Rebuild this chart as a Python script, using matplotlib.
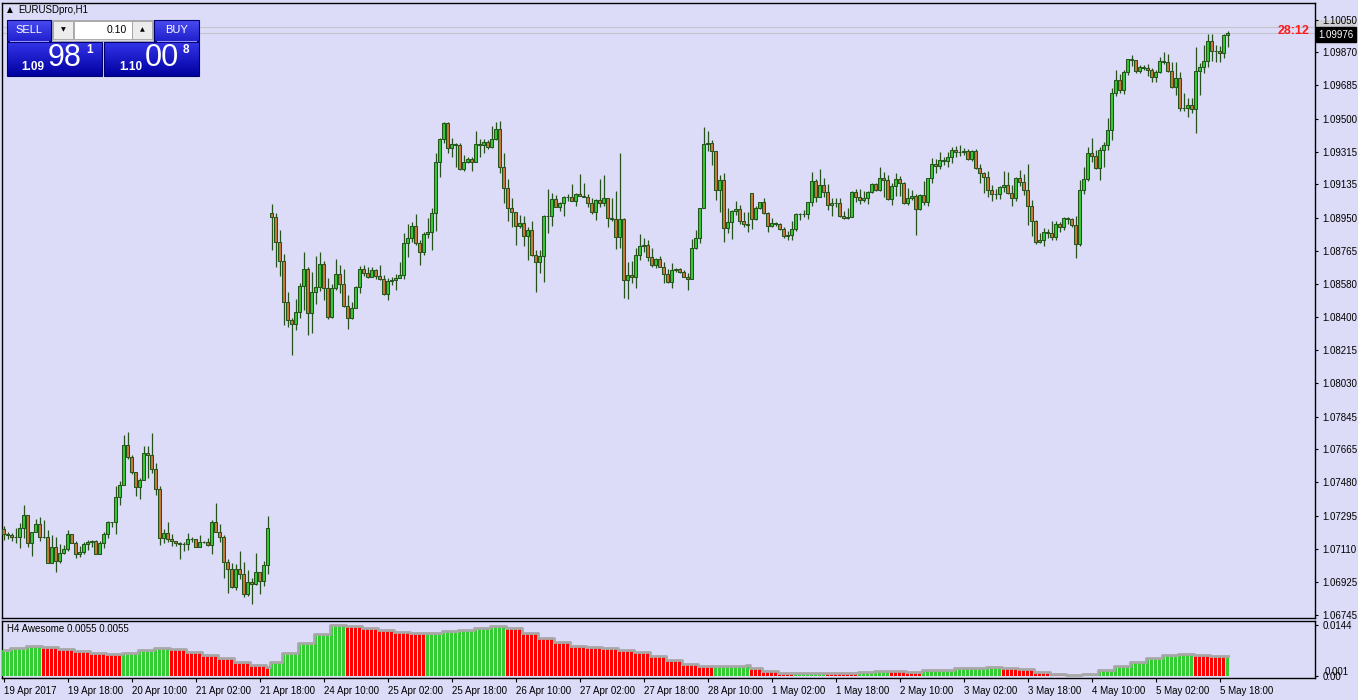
import numpy as np
import pandas as pd
import matplotlib
matplotlib.use("Agg")
import matplotlib.pyplot as plt
from matplotlib.patches import Rectangle
from matplotlib import transforms

plt.rcParams['font.family'] = ['Liberation Sans', 'DejaVu Sans']

# ---------------- data ----------------
symbol_title = "EURUSDpro,H1"
indicator_title = "H4 Awesome 0.0055 0.0055"

closes = [
    1.07193, 1.07190, 1.07175, 1.07179, 1.07225, 1.07297, 1.07142, 1.07203, 1.07247, 1.07175,
    1.07179, 1.07034, 1.07119, 1.07045, 1.07086, 1.07108, 1.07191, 1.07145, 1.07080, 1.07091,
    1.07140, 1.07149, 1.07153, 1.07084, 1.07142, 1.07193, 1.07258, 1.07258, 1.07397, 1.07464,
    1.07686, 1.07619, 1.07540, 1.07453, 1.07493, 1.07641, 1.07634, 1.07556, 1.07441, 1.07169,
    1.07197, 1.07167, 1.07153, 1.07145, 1.07136, 1.07136, 1.07164, 1.07164, 1.07123, 1.07151,
    1.07149, 1.07134, 1.07258, 1.07203, 1.07175, 1.07040, 1.06997, 1.06897, 1.06997, 1.06969,
    1.06858, 1.06925, 1.06914, 1.06980, 1.06934, 1.07021, 1.07225,
    1.08953, 1.08817, 1.08712, 1.08484, 1.08382, 1.08360, 1.08425, 1.08569, 1.08664, 1.08423,
    1.08536, 1.08564, 1.08691, 1.08562, 1.08397, 1.08558, 1.08638, 1.08584, 1.08460, 1.08395,
    1.08449, 1.08564, 1.08666, 1.08645, 1.08623, 1.08660, 1.08629, 1.08608, 1.08527, 1.08597,
    1.08604, 1.08614, 1.08632, 1.08808, 1.08836, 1.08904, 1.08808, 1.08762, 1.08858, 1.08869, 1.08975,
    1.09258, 1.09386, 1.09475, 1.09336, 1.09358, 1.09356, 1.09221, 1.09258, 1.09275, 1.09258,
    1.09358, 1.09356, 1.09371, 1.09345, 1.09386, 1.09442, 1.09230,
    1.09117, 1.09006, 1.08984, 1.08906, 1.08919, 1.08851, 1.08882, 1.08743, 1.08706, 1.08738,
    1.08960, 1.08960, 1.09053, 1.09008, 1.09030, 1.09064, 1.09064, 1.09045, 1.09080, 1.09073,
    1.09067, 1.09034, 1.08984, 1.09049, 1.09034, 1.09058, 1.08947, 1.08941, 1.08845, 1.08943,
    1.08603, 1.08632, 1.08619, 1.08743, 1.08793, 1.08797, 1.08730, 1.08690, 1.08719, 1.08679,
    1.08636, 1.08591, 1.08660, 1.08664, 1.08651, 1.08623, 1.08608, 1.08780, 1.08836, 1.09003,
    1.09358, 1.09366, 1.09323, 1.09104, 1.09160, 1.08891, 1.08925, 1.08988, 1.08997, 1.08932,
    1.08914, 1.08908, 1.08941, 1.09003, 1.09036, 1.08975, 1.08906, 1.08919, 1.08914, 1.08890,
    1.08851, 1.08853, 1.08886, 1.08971,
    1.08971, 1.08971, 1.09036, 1.09154, 1.09067, 1.09132, 1.09095, 1.09019, 1.09032, 1.09032,
    1.08960, 1.08951, 1.08955, 1.09093, 1.09067, 1.09049, 1.09060, 1.09093, 1.09138, 1.09104,
    1.09169, 1.09160, 1.09053, 1.09127, 1.09164, 1.09145, 1.09030, 1.09058, 1.09071, 1.08997,
    1.09077, 1.09038, 1.09169, 1.09247, 1.09240, 1.09271, 1.09264, 1.09286, 1.09327, 1.09314,
    1.09317, 1.09321, 1.09275, 1.09323, 1.09225, 1.09197, 1.09175, 1.09104, 1.09080, 1.09082,
    1.09123, 1.09134, 1.09090,
    1.09058, 1.09169, 1.09151, 1.09104, 1.09017, 1.08934, 1.08817, 1.08827, 1.08869, 1.08864,
    1.08845, 1.08914, 1.08901, 1.08947, 1.08945, 1.08910, 1.08806, 1.09104, 1.09166, 1.09308,
    1.09295, 1.09225, 1.09327, 1.09354, 1.09438,
    1.09641, 1.09716, 1.09660, 1.09758, 1.09830, 1.09825, 1.09767, 1.09788, 1.09784, 1.09771,
    1.09730, 1.09758, 1.09819, 1.09816, 1.09767, 1.09679, 1.09725, 1.09562, 1.09558, 1.09577,
    1.09553, 1.09766, 1.09786, 1.09821, 1.09932, 1.09877, 1.09879, 1.09867, 1.09966, 1.09976,
]

highs = [
    1.07238, 1.07204, 1.07197, 1.07225, 1.07253, 1.07354, 1.07297, 1.07203, 1.07277, 1.07286,
    1.07271, 1.07214, 1.07188, 1.07177, 1.07136, 1.07132, 1.07216, 1.07191, 1.07154, 1.07127,
    1.07151, 1.07160, 1.07160, 1.07160, 1.07154, 1.07204, 1.07266, 1.07262, 1.07460, 1.07488,
    1.07743, 1.07760, 1.07630, 1.07540, 1.07503, 1.07682, 1.07682, 1.07754, 1.07586, 1.07460,
    1.07221, 1.07260, 1.07193, 1.07156, 1.07151, 1.07151, 1.07197, 1.07175, 1.07164, 1.07186,
    1.07156, 1.07171, 1.07271, 1.07364, 1.07249, 1.07186, 1.07053, 1.07030, 1.07027, 1.07099,
    1.07036, 1.06993, 1.06947, 1.07086, 1.06984, 1.07043, 1.07293,
    1.09027, 1.08975, 1.08882, 1.08749, 1.08538, 1.08391, 1.08499, 1.08586, 1.08760, 1.08675,
    1.08649, 1.08738, 1.08760, 1.08712, 1.08614, 1.08580, 1.08721, 1.08688, 1.08666, 1.08521,
    1.08480, 1.08569, 1.08680, 1.08686, 1.08675, 1.08675, 1.08664, 1.08688, 1.08632, 1.08614,
    1.08619, 1.08636, 1.08706, 1.08864, 1.08916, 1.08927, 1.08971, 1.08827, 1.08873, 1.08947, 1.09003,
    1.09308, 1.09392, 1.09480, 1.09480, 1.09392, 1.09364, 1.09364, 1.09299, 1.09290, 1.09290,
    1.09432, 1.09386, 1.09388, 1.09382, 1.09460, 1.09480, 1.09488,
    1.09308, 1.09166, 1.09058, 1.08984, 1.08964, 1.08960, 1.08901, 1.08932, 1.08771, 1.08771,
    1.08966, 1.09110, 1.09086, 1.09077, 1.09036, 1.09071, 1.09080, 1.09136, 1.09086, 1.09193,
    1.09142, 1.09080, 1.09058, 1.09053, 1.09166, 1.09188, 1.09062, 1.09058, 1.09099, 1.09312,
    1.08947, 1.08702, 1.08710, 1.08780, 1.08858, 1.08836, 1.08827, 1.08780, 1.08725, 1.08738,
    1.08702, 1.08666, 1.08697, 1.08673, 1.08673, 1.08660, 1.08643, 1.08830, 1.08882, 1.09006,
    1.09453, 1.09432, 1.09382, 1.09323, 1.09188, 1.09197, 1.09003, 1.08993, 1.09043, 1.09021,
    1.08984, 1.08980, 1.09086, 1.09016, 1.09040, 1.09062, 1.08984, 1.08951, 1.08928, 1.08919,
    1.08901, 1.08877, 1.08932, 1.08978,
    1.08979, 1.08993, 1.09040, 1.09203, 1.09164, 1.09221, 1.09173, 1.09138, 1.09058, 1.09060,
    1.09058, 1.08988, 1.09003, 1.09099, 1.09110, 1.09110, 1.09099, 1.09101, 1.09145, 1.09142,
    1.09230, 1.09206, 1.09188, 1.09145, 1.09197, 1.09182, 1.09151, 1.09114, 1.09104, 1.09082,
    1.09082, 1.09156, 1.09173, 1.09280, 1.09277, 1.09314, 1.09290, 1.09314, 1.09345, 1.09349,
    1.09354, 1.09336, 1.09330, 1.09327, 1.09330, 1.09249, 1.09206, 1.09212, 1.09132, 1.09108,
    1.09127, 1.09210, 1.09203,
    1.09132, 1.09178, 1.09216, 1.09193, 1.09249, 1.09049, 1.08938, 1.08867, 1.08891, 1.08888,
    1.08934, 1.08934, 1.08929, 1.08953, 1.08953, 1.08947, 1.08960, 1.09160, 1.09230, 1.09341,
    1.09391, 1.09327, 1.09341, 1.09369, 1.09503,
    1.09669, 1.09771, 1.09747, 1.09771, 1.09830, 1.09854, 1.09827, 1.09799, 1.09799, 1.09804,
    1.09780, 1.09771, 1.09841, 1.09873, 1.09860, 1.09817, 1.09814, 1.09758, 1.09641, 1.09614,
    1.09614, 1.09897, 1.09808, 1.09910, 1.09971, 1.09971, 1.09910, 1.09904, 1.09971, 1.09990,
]

lows = [
    1.07160, 1.07164, 1.07156, 1.07145, 1.07114, 1.07173, 1.07123, 1.07073, 1.07203, 1.07156,
    1.07173, 1.07030, 1.07030, 1.06984, 1.07034, 1.07082, 1.07101, 1.07142, 1.07062, 1.07067,
    1.07082, 1.07104, 1.07123, 1.07080, 1.07082, 1.07117, 1.07169, 1.07234, 1.07193, 1.07356,
    1.07467, 1.07608, 1.07525, 1.07406, 1.07390, 1.07493, 1.07506, 1.07530, 1.07412, 1.07134,
    1.07145, 1.07149, 1.07127, 1.07129, 1.07056, 1.07101, 1.07104, 1.07151, 1.07119, 1.07123,
    1.07145, 1.07129, 1.07082, 1.07203, 1.07151, 1.06951, 1.06867, 1.06895, 1.06882, 1.06945,
    1.06845, 1.06851, 1.06806, 1.06910, 1.06858, 1.06906, 1.06971,
    1.08771, 1.08679, 1.08627, 1.08354, 1.08345, 1.08188, 1.08327, 1.08395, 1.08438, 1.08299,
    1.08308, 1.08471, 1.08543, 1.08493, 1.08388, 1.08395, 1.08549, 1.08530, 1.08453, 1.08332,
    1.08388, 1.08451, 1.08534, 1.08627, 1.08614, 1.08619, 1.08608, 1.08604, 1.08521, 1.08493,
    1.08575, 1.08549, 1.08614, 1.08610, 1.08734, 1.08817, 1.08799, 1.08688, 1.08743, 1.08836, 1.08771,
    1.08877, 1.09179, 1.09364, 1.09312, 1.09290, 1.09234, 1.09216, 1.09212, 1.09253, 1.09212,
    1.09258, 1.09290, 1.09312, 1.09332, 1.09340, 1.09382, 1.09201,
    1.09030, 1.08934, 1.08901, 1.08801, 1.08895, 1.08795, 1.08716, 1.08740, 1.08540, 1.08645,
    1.08595, 1.08864, 1.08904, 1.09008, 1.08990, 1.08962, 1.09045, 1.09045, 1.09017, 1.09073,
    1.09064, 1.09012, 1.08971, 1.08938, 1.09008, 1.09016, 1.08901, 1.08934, 1.08778, 1.08784,
    1.08506, 1.08500, 1.08590, 1.08562, 1.08716, 1.08758, 1.08712, 1.08679, 1.08673, 1.08675,
    1.08586, 1.08586, 1.08558, 1.08651, 1.08645, 1.08619, 1.08549, 1.08608, 1.08777, 1.08812,
    1.09003, 1.09321, 1.09243, 1.09049, 1.08984, 1.08817, 1.08864, 1.08832, 1.08966, 1.08914,
    1.08901, 1.08873, 1.08886, 1.08938, 1.08999, 1.08971, 1.08873, 1.08901, 1.08906, 1.08882,
    1.08840, 1.08827, 1.08827, 1.08878,
    1.08938, 1.08953, 1.08943, 1.09017, 1.09040, 1.09067, 1.09064, 1.08993, 1.08962, 1.09012,
    1.08956, 1.08943, 1.08945, 1.08956, 1.09040, 1.09027, 1.09036, 1.09027, 1.09086, 1.09101,
    1.09101, 1.09064, 1.09049, 1.09021, 1.09071, 1.09073, 1.09027, 1.09021, 1.09049, 1.08854,
    1.08993, 1.09021, 1.09016, 1.09142, 1.09201, 1.09221, 1.09243, 1.09234, 1.09253, 1.09286,
    1.09293, 1.09299, 1.09271, 1.09267, 1.09219, 1.09142, 1.09086, 1.09064, 1.09045, 1.09054,
    1.09054, 1.09092, 1.09082,
    1.09016, 1.09043, 1.09127, 1.09077, 1.08910, 1.08849, 1.08804, 1.08812, 1.08795, 1.08836,
    1.08827, 1.08827, 1.08873, 1.08882, 1.08914, 1.08901, 1.08729, 1.08795, 1.09082, 1.09156,
    1.09262, 1.09219, 1.09160, 1.09230, 1.09327,
    1.09382, 1.09627, 1.09641, 1.09638, 1.09743, 1.09793, 1.09756, 1.09756, 1.09771, 1.09738,
    1.09706, 1.09706, 1.09753, 1.09804, 1.09762, 1.09673, 1.09632, 1.09545, 1.09545, 1.09512,
    1.09530, 1.09423, 1.09632, 1.09756, 1.09790, 1.09823, 1.09817, 1.09817, 1.09836, 1.09901,
]

# opens follow the previous close, except at session gaps
gap_opens = {0: 1.07219, 67: 1.08975, 187: 1.09086}

# trading sessions of the H1 bars shown
sessions = [("2017-04-19 02:00", "2017-04-21 20:00"),
            ("2017-04-23 21:00", "2017-04-28 20:00"),
            ("2017-04-30 21:00", "2017-05-05 20:00")]

# H4 Awesome Oscillator values (one per H4 bar)
ao_h4 = [
    0.00727, 0.00784, 0.00841, 0.00798, 0.00755, 0.00698, 0.00641, 0.00604, 0.00641, 0.00713,
    0.00784, 0.00755, 0.00670, 0.00584, 0.00485, 0.00385, 0.00299, 0.00242,
    0.00385, 0.00641, 0.00926, 0.01183, 0.01440, 0.01397, 0.01354, 0.01297, 0.01240, 0.01197,
    0.01211, 0.01254, 0.01297, 0.01354, 0.01411, 0.01354, 0.01211, 0.01069, 0.00941, 0.00827,
    0.00798, 0.00775, 0.00741, 0.00656, 0.00542, 0.00428, 0.00328, 0.00276, 0.00280, 0.00284, 0.00287,
    0.00214, 0.00128, 0.00071, 0.00077, 0.00083, 0.00077, 0.00071, 0.00114, 0.00128, 0.00120,
    0.00111, 0.00143, 0.00171, 0.00200, 0.00228, 0.00251, 0.00228, 0.00185, 0.00114, 0.00043,
    0.00005, 0.00043, 0.00143, 0.00271, 0.00399, 0.00513, 0.00576, 0.00604, 0.00585, 0.00548, 0.00552,
]

price_ticks = [1.10050, 1.09870, 1.09685, 1.09500, 1.09315, 1.09135, 1.08950, 1.08765, 1.08580,
               1.08400, 1.08215, 1.08030, 1.07845, 1.07665, 1.07480, 1.07295, 1.07110, 1.06925, 1.06745]
time_labels = ["19 Apr 2017", "19 Apr 18:00", "20 Apr 10:00", "21 Apr 02:00", "21 Apr 18:00",
               "24 Apr 10:00", "25 Apr 02:00", "25 Apr 18:00", "26 Apr 10:00", "27 Apr 02:00",
               "27 Apr 18:00", "28 Apr 10:00", "1 May 02:00", "1 May 18:00", "2 May 10:00",
               "3 May 02:00", "3 May 18:00", "4 May 10:00", "5 May 02:00", "5 May 18:00"]
ao_ticks = [0.0144, 0.0]
ao_tick_labels = ["0.0144", "0.00"]
bid = 1.09976
ask = 1.10008
timer_text = "28:12"
lot_text = "0.10"
sell_parts = ("1.09", "98", "1")
buy_parts = ("1.10", "00", "8")

# ---------------- styles ----------------
BG = "#dcdcf8"
WICK = "#25531b"
BULL = "#36c836"
BEAR = "#c87a3c"
AO_UP = "#33cc33"
AO_DN = "#ff0000"

n = min(len(closes), len(highs), len(lows))
c = np.array(closes[:n])
o = np.empty(n)
o[1:] = c[:-1]
for k, v in gap_opens.items():
    if k < n:
        o[k] = v
h = np.maximum(np.array(highs[:n]), np.maximum(o, c))
l = np.minimum(np.array(lows[:n]), np.minimum(o, c))
x = np.arange(n)

times = pd.DatetimeIndex(np.concatenate([pd.date_range(a, b, freq="h").values for a, b in sessions]))[:n]
codes = pd.factorize(times.floor("4h"))[0]
ao_arr = np.array(ao_h4)
codes = np.clip(codes, 0, len(ao_arr) - 1)
ao_h1 = ao_arr[codes]
ao_col_h4 = [AO_UP] + [AO_UP if ao_arr[i] > ao_arr[i - 1] else AO_DN for i in range(1, len(ao_arr))]
ao_cols = [ao_col_h4[k] for k in codes]

# ---------------- figure ----------------
W, H = 1358, 700
fig = plt.figure(figsize=(W / 100, H / 100), dpi=100, facecolor=BG)


def rect(x0, y0, x1, y1):
    return [x0 / W, 1 - y1 / H, (x1 - x0) / W, (y1 - y0) / H]


ax = fig.add_axes(rect(2, 3, 1315, 618))
ax_ao = fig.add_axes(rect(2, 621, 1315, 678))

XLIM = (-0.375, 327.875)
for a in (ax, ax_ao):
    a.set_facecolor(BG)
    a.set_xlim(*XLIM)
    for s in a.spines.values():
        s.set_color("black")
        s.set_linewidth(1.0)

# candles
ax.vlines(x, l, h, color=WICK, linewidth=0.9, zorder=3)
fills = [BULL if cc > oo else (BEAR if cc < oo else WICK) for oo, cc in zip(o, c)]
ax.bar(x, np.abs(c - o), bottom=np.minimum(o, c), width=0.6, color=fills,
       edgecolor=WICK, linewidth=0.75, zorder=4)

ax.set_ylim(1.067267, 1.101433)
ax.axhline(ask, color="#c4c4cc", linewidth=0.8, zorder=2)
ax.axhline(bid, color="#c4c4cc", linewidth=0.8, zorder=2)

ax.set_xticks([])
ax.yaxis.tick_right()
ax.set_yticks(price_ticks)
ax.set_yticklabels([f"{v:.5f}" for v in price_ticks])
ax.tick_params(axis="y", direction="out", length=2.5, width=0.8, pad=3, labelsize=7, colors="black")

# price labels on the right axis
blend = transforms.blended_transform_factory(ax.transAxes, ax.transData)
ax.annotate("1.10008", xy=(1, ask), xycoords=blend, xytext=(2.5, 0), textcoords="offset points",
            ha="left", va="center", fontsize=7, color="#d0d0d4", zorder=1, annotation_clip=False,
            bbox=dict(boxstyle="square,pad=0.22", fc="#d0d0d4", ec="none"))
ax.annotate(f"{bid:.5f}", xy=(1, bid), xycoords=blend, xytext=(2.5, -1), textcoords="offset points",
            ha="left", va="center", fontsize=7, color="white", zorder=6, annotation_clip=False,
            bbox=dict(boxstyle="square,pad=0.28", fc="black", ec="black"))
ax.annotate(timer_text, xy=(326.6, bid), xycoords="data", xytext=(0, 1.5), textcoords="offset points",
            ha="right", va="center", fontsize=9, fontweight="bold", color="#ff1a1a", zorder=6)

# AO panel
AO_LIM = (-0.00071, 0.01553)
AO_BASE = -0.00028
ax_ao.set_ylim(*AO_LIM)
ax_ao.bar(x, ao_h1 - AO_BASE, bottom=AO_BASE, width=0.72, color=ao_cols, linewidth=0, zorder=3)
ax_ao.plot(x, ao_h1, drawstyle="steps-mid", color="#a8a8a8", linewidth=2.0, zorder=4)
ax_ao.yaxis.tick_right()
ax_ao.set_yticks(ao_ticks)
ax_ao.set_yticklabels(ao_tick_labels)
ax_ao.tick_params(axis="y", direction="out", length=2.5, width=0.8, pad=3, labelsize=7, colors="black")
blend_ao = transforms.blended_transform_factory(ax_ao.transAxes, ax_ao.transData)
ax_ao.annotate("0.001", xy=(1, 0.001), xycoords=blend_ao, xytext=(7, 0), textcoords="offset points",
               ha="left", va="center", fontsize=7, annotation_clip=False)
ax_ao.set_xticks(np.arange(len(time_labels)) * 16)
ax_ao.set_xticklabels(time_labels, ha="left")
ax_ao.tick_params(axis="x", direction="out", length=3, width=0.8, pad=3, labelsize=7, colors="black")
ax_ao.text(0.004, 0.86, indicator_title, transform=ax_ao.transAxes, fontsize=7, va="center", ha="left")

# ---------------- overlay (title and trade panel) ----------------
ui = fig.add_axes([0, 0, 1, 1], zorder=10)
ui.patch.set_alpha(0)
ui.axis("off")


def grad(x0, y0, x1, y1, ctop, cbot):
    t = np.linspace(0, 1, 64)[:, None, None]
    a = np.array(matplotlib.colors.to_rgb(ctop))[None, None, :]
    b = np.array(matplotlib.colors.to_rgb(cbot))[None, None, :]
    img = a * (1 - t) + b * t
    img = np.repeat(img, 2, axis=1)
    ui.imshow(img, extent=(x0, x1, y1, y0), aspect="auto", origin="upper", zorder=2, interpolation="bilinear")
    ui.add_patch(Rectangle((x0, y0), x1 - x0, y1 - y0, fill=False, ec="#000070", lw=0.8, zorder=3))


ui.text(7, 10, "\u25b2", fontsize=5.5, va="center", ha="left", family=["DejaVu Sans"])
ui.text(18, 10, symbol_title, fontsize=7, va="center", ha="left")

# lot frame
ui.add_patch(Rectangle((52, 20), 101, 21, fc="#d8d8e0", ec="#a0a0a8", lw=0.6, zorder=2))
ui.add_patch(Rectangle((53, 21), 20, 18, fc="#ececec", ec="#a0a0a0", lw=0.6, zorder=3))
ui.add_patch(Rectangle((74, 21), 58, 18, fc="white", ec="#a0a0a0", lw=0.6, zorder=3))
ui.add_patch(Rectangle((132, 21), 20, 18, fc="#ececec", ec="#a0a0a0", lw=0.6, zorder=3))
ui.text(63, 29.5, "\u25bc", fontsize=4.5, ha="center", va="center", zorder=4, family=["DejaVu Sans"])
ui.text(142, 29.5, "\u25b2", fontsize=4.5, ha="center", va="center", zorder=4, family=["DejaVu Sans"])
ui.text(127, 30, lot_text, fontsize=7.5, ha="right", va="center", zorder=4)

grad(7, 20, 51, 41, "#4b4bf2", "#2020cc")
grad(154, 20, 199, 41, "#4b4bf2", "#2020cc")
ui.plot([10, 48], [40.5, 40.5], color="#9090ff", lw=0.8, zorder=4)
ui.plot([157, 196], [40.5, 40.5], color="#9090ff", lw=0.8, zorder=4)
ui.text(29, 30, "SELL", fontsize=8, color="white", ha="center", va="center", zorder=5)
ui.text(176.5, 30, "BUY", fontsize=8, color="white", ha="center", va="center", zorder=5)

grad(7, 42, 102, 76, "#3434ea", "#0000a0")
grad(104, 42, 199, 76, "#3434ea", "#0000a0")
ui.text(21, 67, sell_parts[0], fontsize=8.5, fontweight="bold", color="white", ha="left", va="center", zorder=5)
ui.text(48, 58.5, sell_parts[1], fontsize=22, color="white", ha="left", va="center", zorder=5)
ui.text(86, 50, sell_parts[2], fontsize=8.5, fontweight="bold", color="white", ha="left", va="center", zorder=5)
ui.text(119, 67, buy_parts[0], fontsize=8.5, fontweight="bold", color="white", ha="left", va="center", zorder=5)
ui.text(145, 58.5, buy_parts[1], fontsize=22, color="white", ha="left", va="center", zorder=5)
ui.text(183, 50, buy_parts[2], fontsize=8.5, fontweight="bold", color="white", ha="left", va="center", zorder=5)

ui.set_xlim(0, W)
ui.set_ylim(H, 0)

fig.savefig("out.png", dpi=100, facecolor=BG)
